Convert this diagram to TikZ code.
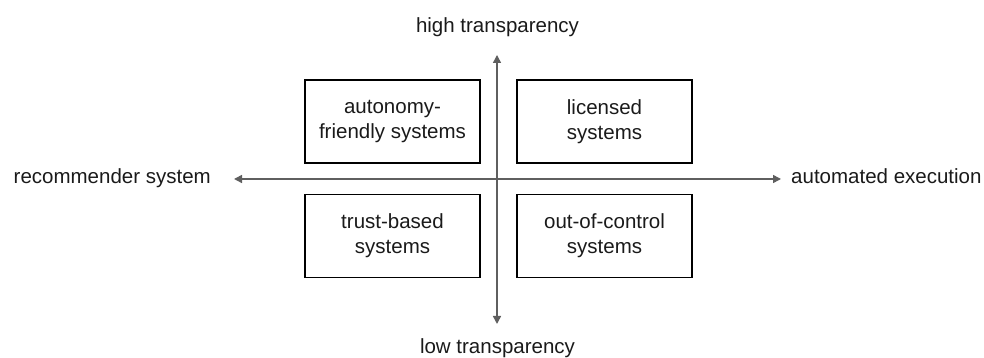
\documentclass[tikz,border=0pt]{standalone}
\usepackage{fontspec}
\setmainfont{Liberation Sans}
\usetikzlibrary{arrows.meta}
\definecolor{axisgray}{HTML}{5F5F5F}
\definecolor{txt}{HTML}{1A1A1A}
\tikzset{
  quad/.style={draw=black, line width=1.4pt, minimum width=175pt, minimum height=83pt,
    align=center, inner sep=0pt, text=txt, font=\fontsize{20.5}{25}\selectfont},
  axislabel/.style={inner sep=0pt, text=txt, font=\fontsize{20.5}{25}\selectfont},
  axisline/.style={draw=axisgray, line width=1.5pt, -{Triangle[length=8pt,width=8pt]}},
}
\begin{document}
\begin{tikzpicture}[x=1pt,y=1pt]
\useasboundingbox (0,0) rectangle (984,358);
% axis ends
\coordinate (O) at (497,179);
\coordinate (L) at (234,179);
\coordinate (R) at (781,179);
\coordinate (T) at (497,303);
\coordinate (B) at (497,34);
\draw[axisline] (O) -- (L);
\draw[axisline] (O) -- (R);
\draw[axisline] (O) -- (T);
\draw[axisline] (O) -- (B);
% quadrant boxes
\node[quad] (af) at (392.5,236.5) {autonomy-\\friendly systems};
\node[quad] (lic) at (604.5,236.5) {licensed\\systems};
\node[quad] (tb) at (392.5,122) {trust-based\\systems};
\node[quad] (oc) at (604.5,122) {out-of-control\\systems};
% axis labels
\node[axislabel, anchor=base] (hi) at (497.5,325.7) {high transparency};
\node[axislabel, anchor=base] (lo) at (497.5,4.5) {low transparency};
\node[axislabel, anchor=base east] (rec) at (211,174.7) {recommender system};
\node[axislabel, anchor=base west] (aut) at (791,174.7) {automated execution};
\end{tikzpicture}
\end{document}
